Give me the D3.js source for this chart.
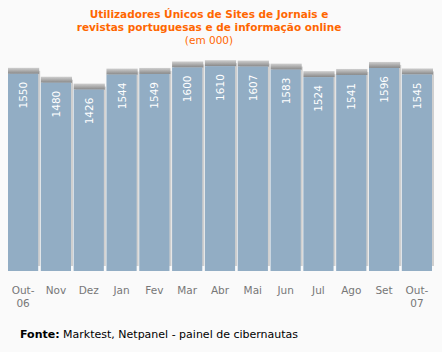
<!DOCTYPE html>
<meta charset="utf-8">
<script src="https://d3js.org/d3.v7.min.js"></script>
<style>
  body { margin: 0; background: #fafafa; font-family: "DejaVu Sans", Verdana, sans-serif; }
</style>
<body>
<div id="viz"></div>
<script>
// data
const months = ["Out-06", "Nov", "Dez", "Jan", "Fev", "Mar", "Abr", "Mai", "Jun", "Jul", "Ago", "Set", "Out-07"];
const users = [1550, 1480, 1426, 1544, 1549, 1600, 1610, 1607, 1583, 1524, 1541, 1596, 1545];
const titleLines = ["Utilizadores Únicos de Sites de Jornais e", "revistas portuguesas e de informação online"];

const W = 442, H = 352;

const svg = d3.select("#viz").append("svg")
    .attr("width", W)
    .attr("height", H);

const defs = svg.append("defs");
const cap = defs.append("linearGradient").attr("id", "cap")
    .attr("x1", 0).attr("y1", 0).attr("x2", 0).attr("y2", 1);
cap.append("stop").attr("offset", "0%").attr("stop-color", "#cfcfcf");
cap.append("stop").attr("offset", "100%").attr("stop-color", "#888");

const x = d3.scaleBand()
    .domain(months)
    .range([8, 432])
    .paddingInner(0.08)
    .paddingOuter(0);

const y = d3.scaleLinear()
    .domain([0, 1800])
    .range([271, 42]);

// title
const title = svg.append("g").attr("fill", "#ff6600").attr("text-anchor", "middle");
title.selectAll("text.t")
  .data(titleLines)
  .join("text")
    .attr("class", "t")
    .attr("x", 209)
    .attr("y", (d, i) => 18 + i * 13)
    .attr("font-size", 10.5)
    .attr("font-weight", "bold")
    .text(d => d);
title.append("text")
    .attr("x", 209)
    .attr("y", 44)
    .attr("font-size", 10.5)
    .text("(em 000)");

const bars = svg.append("g").selectAll("g")
  .data(users)
  .join("g");

// shadow on the right
bars.append("rect")
    .attr("x", (d, i) => x(months[i]) + 2)
    .attr("y", d => y(d) - 3)
    .attr("width", x.bandwidth())
    .attr("height", d => y(0) - y(d) - 2)
    .attr("fill", "#cfcfcf");

// grey top cap
bars.append("rect")
    .attr("x", (d, i) => x(months[i]))
    .attr("y", d => y(d) - 6)
    .attr("width", x.bandwidth() + 1)
    .attr("height", 6)
    .attr("fill", "url(#cap)");

bars.append("rect")
    .attr("x", (d, i) => x(months[i]))
    .attr("y", d => y(d))
    .attr("width", x.bandwidth())
    .attr("height", d => y(0) - y(d))
    .attr("fill", "#92adc4");

bars.append("text")
    .attr("transform", (d, i) => `translate(${x(months[i]) + x.bandwidth() / 2 + 4},${y(d) + 8}) rotate(-90)`)
    .attr("text-anchor", "end")
    .attr("font-size", 10.5)
    .attr("fill", "#fff")
    .text(d => d);

// month labels
const xa = svg.append("g").attr("fill", "#777").attr("font-size", 10.5).attr("text-anchor", "middle");
months.forEach((m, i) => {
  const cx = x(m) + x.bandwidth() / 2;
  const parts = m.indexOf("-") > 0 ? [m.split("-")[0] + "-", m.split("-")[1]] : [m];
  parts.forEach((p, j) => {
    xa.append("text")
      .attr("x", cx)
      .attr("y", 294 + j * 13)
      .text(p);
  });
});

// source
const src = svg.append("text")
    .attr("x", 20)
    .attr("y", 338)
    .attr("font-size", 11)
    .attr("fill", "#000");
src.append("tspan").attr("font-weight", "bold").text("Fonte:");
src.append("tspan").text(" Marktest, Netpanel - painel de cibernautas");
</script>
</body>
